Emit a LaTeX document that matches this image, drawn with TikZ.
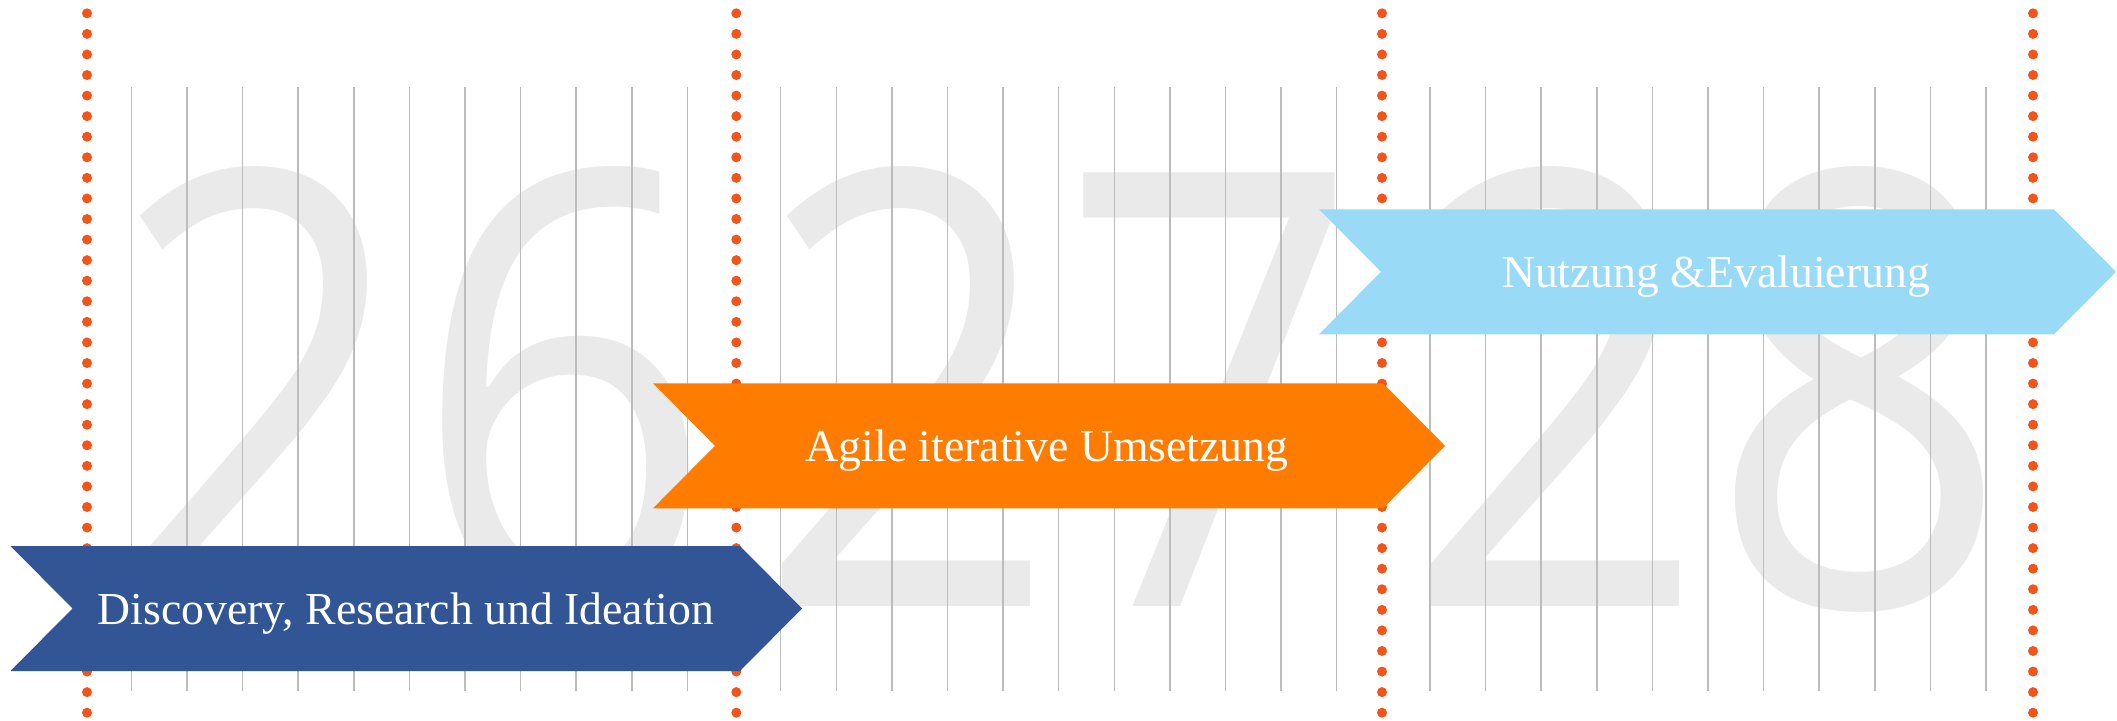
\documentclass[tikz,border=0pt]{standalone}
\usepackage{fontspec}
\setmainfont{Liberation Serif}
\newfontfamily\yearfont{Open Sans}

\definecolor{dotred}{RGB}{242,84,26}
\definecolor{gridgray}{RGB}{188,188,188}
\definecolor{yeargray}{RGB}{234,234,234}
\definecolor{phaseblue}{RGB}{50,85,150}
\definecolor{phaseorange}{RGB}{255,124,0}
\definecolor{phasesky}{RGB}{153,219,247}

\tikzset{
	year/.style={text=yeargray, font=\yearfont\fontsize{172.8}{180}\selectfont, inner sep=0pt, anchor=base, xscale=0.87},
	phase/.style={text=white, font=\fontsize{13}{15}\selectfont, inner sep=0pt, anchor=base},
	month/.style={draw=gridgray, line width=0.015cm},
}

\begin{document}
\begin{tikzpicture}[x=0.01cm, y=-0.01cm]
			\useasboundingbox (0,0) rectangle (2117,721);
			
			\node[year] (yr26)  at  (412, 606){26};
			\node[year] (yr27)  at  (1059, 606){27};
			\node[year] (yr28)  at  (1708, 606){28};
			
			% months
			\foreach \s in {131.4, 780.7, 1430}
				\foreach \k in {0,...,10}
					\draw[month] (\s+\k*55.6, 87.3) -- (\s+\k*55.6, 690.7);
			
			% year borders
			\foreach \x in {87, 736.3, 1382, 2033}
				\foreach \i in {0,...,34}
					\fill[dotred] (\x, 13.3+\i*20.57) circle (0.05cm);
			
			\fill[phaseblue] (10.5, 546) -- (740, 546) -- (802, 608.5) -- (740, 671) -- (10.5, 671) -- (72.5, 608.5) -- cycle;
			\fill[phaseorange] (653, 383.3) -- (1383, 383.3) -- (1445, 445.8) -- (1383, 508.3) -- (653, 508.3) -- (715, 445.8) -- cycle;
			\fill[phasesky] (1319, 209.3) -- (2054, 209.3) -- (2116, 271.8) -- (2054, 334.3) -- (1319, 334.3) -- (1381, 271.8) -- cycle;
			
			\node[phase] (disc)  at  (406, 624){Discovery, Research und Ideation};
			\node[phase] (agile)  at  (1047, 461){Agile iterative Umsetzung};
			\node[phase] (use)  at  (1716, 287){Nutzung \&Evaluierung};
		\end{tikzpicture}
\end{document}
